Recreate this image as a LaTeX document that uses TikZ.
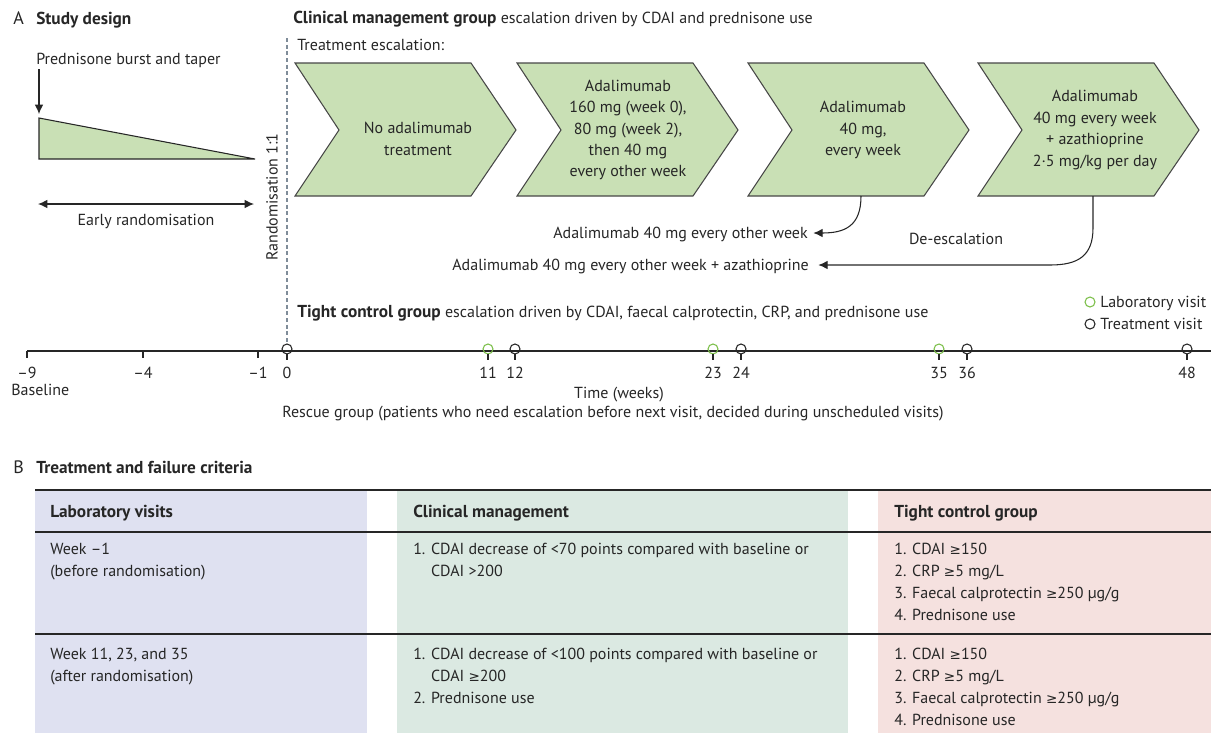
\documentclass[tikz,border=0pt]{standalone}
\usepackage{fontspec}
\setmainfont{PT Sans}
\newfontfamily\bff{PT Sans}[Scale=1.08]
\newfontfamily\symf{DejaVu Sans}[Scale=0.85]
\newcommand\mge{{\symf ≥}}
\newcommand\bt[1]{{\bff\bfseries #1}}
\usetikzlibrary{arrows.meta}
\definecolor{ink}{HTML}{262626}
\definecolor{chev}{HTML}{C9E0B5}
\definecolor{labg}{HTML}{7CBF4A}
\definecolor{dashc}{HTML}{7F8C99}
\definecolor{colA}{HTML}{DFE1F1}
\definecolor{colB}{HTML}{DBE9E2}
\definecolor{colC}{HTML}{F5E1DF}
\begin{document}
\begin{tikzpicture}[x=0.75pt,y=-0.75pt,
  every node/.style={inner sep=0pt,text=ink},
  t/.style={font=\fontsize{12}{16.1}\selectfont},
  tb/.style={font=\fontsize{12}{16.1}\selectfont\bff\bfseries},
  tl/.style={font=\fontsize{13.5}{16}\selectfont},
  chevbox/.style={draw=ink!85,fill=chev,line width=0.8pt,line join=miter},
  tip/.style={-{Latex[length=7pt,width=6.5pt]}},
  tlinestyle/.style={draw=ink,line width=0.8pt},
  visit/.style={draw=ink,line width=0.8pt},
  labvisit/.style={draw=labg,line width=0.8pt},
  tab/.style={font=\fontsize{12}{16.5}\selectfont,align=left,anchor=base west},
  tabh/.style={font=\fontsize{12}{16.5}\selectfont\bff\bfseries,anchor=base west}
]
\useasboundingbox (0,0) rectangle (1216,733);

% ---------- Panel A headings
\node[tl,anchor=base west] (A) at (13,24) {A};
\node[tb,anchor=base west] (sd) at (36,24) {Study design};
\node[t,anchor=base west] (pred) at (36,64) {Prednisone burst and taper};
\coordinate (triTL) at (39,118);
\coordinate (triBL) at (39,159);
\coordinate (triR) at (255,159);
\coordinate (predstart) at (39,69);
\draw[ink,line width=0.8pt,fill=chev] (triTL) -- (triR) -- (triBL) -- cycle;
\draw[ink,line width=0.9pt,tip] (predstart) -- ([yshift=3pt]triTL);
\coordinate (erL) at (38,204);
\coordinate (erR) at (254,204);
\draw[ink,line width=0.9pt,{Latex[length=7pt,width=6.5pt]}-{Latex[length=7pt,width=6.5pt]}] (erL) -- (erR);
\node[t,anchor=base] (er) at (146,225) {Early randomisation};
\node[t,rotate=90] (rand) at (272,197) {Randomisation 1:1};

% ---------- Clinical management
\node[anchor=base west,t] (cm) at (293,23) {\bt{Clinical management group} escalation driven by CDAI and prednisone use};
\node[anchor=base west,t] (te) at (297,50) {Treatment escalation:};

\foreach \L/\n in {295/1,517/2,748/3,978/4}{
  \draw[chevbox] (\L,63) -- ++(176,0) -- ++(45,67) -- ++(-45,66) -- ++(-176,0) -- ++(44,-66) -- cycle;
}
\node[t,align=center] (c1) at (418,139) {No adalimumab\\treatment};
\node[t,align=center] (c2) at (628,130) {Adalimumab\\160 mg (week 0),\\80 mg (week 2),\\then 40 mg\\every other week};
\node[t,align=center] (c3) at (863,130) {Adalimumab\\40 mg,\\every week};
\node[t,align=center] (c4) at (1095,130) {Adalimumab\\40 mg every week\\+ azathioprine\\2·5 mg/kg per day};
\coordinate (c3b) at (861,196);
\coordinate (c4b) at (1093,196);

\node[t,anchor=base east] (d1) at (808,238) {Adalimumab 40 mg every other week};
\node[t,anchor=base east] (d2) at (809,270) {Adalimumab 40 mg every other week + azathioprine};
\node[t,anchor=base] (deesc) at (956,244) {De-escalation};
\draw[ink,line width=0.8pt,tip] (c3b) .. controls (861,226) and (845,233) .. ([xshift=4pt]d1.east |- 0,233);
\draw[ink,line width=0.8pt,tip] (c4b) -- (1093,228) .. controls (1093,256) and (1078,265) .. (1050,265) -- ([xshift=7pt]d2.east |- 0,265);

% ---------- Tight control
\node[anchor=base west,t] (tc) at (297,317) {\bt{Tight control group} escalation driven by CDAI, faecal calprotectin, CRP, and prednisone use};
\draw[labvisit] (1090,302) circle (5);
\node[t,anchor=base west] (lv) at (1100,307) {Laboratory visit};
\draw[visit] (1090,324) circle (5);
\node[t,anchor=base west] (tv) at (1100,329) {Treatment visit};

% ---------- Timeline
\coordinate (tlL) at (27,351);
\coordinate (tlR) at (1211,351);
\draw[tlinestyle] (tlL) -- (tlR);
\foreach \x/\l in {27/{–9},143/{–4},258/{–1}}{
  \draw[tlinestyle] (\x,351) -- (\x,358);
  \node[t,anchor=base] at (\x,378) {\l};
}
\foreach \x/\l in {287/0,515/12,741/24,967/36,1187/48}{
  \draw[visit] (\x,349) circle (5);
  \draw[tlinestyle] (\x,354) -- (\x,360);
  \node[t,anchor=base] at (\x,378) {\l};
}
\foreach \x/\l in {488/11,713/23,939/35}{
  \draw[labvisit] (\x,349) circle (5);
  \draw[tlinestyle] (\x,354) -- (\x,360);
  \node[t,anchor=base] at (\x,378) {\l};
}
\draw[dashc,line width=0.8pt,dash pattern=on 3pt off 2pt] (287,38) -- (287,344);
\node[t,anchor=base west] (bl) at (11,395) {Baseline};
\node[t,anchor=base] (tw) at (619,398) {Time (weeks)};
\node[t,anchor=base west] (rg) at (282,417) {Rescue group (patients who need escalation before next visit, decided during unscheduled visits)};

% ---------- Panel B
\node[tl,anchor=base west] (B) at (13,473) {B};
\node[tb,anchor=base west] (tfc) at (36,473) {Treatment and failure criteria};
\fill[colA] (35,490) rectangle (367,733);
\fill[colB] (397,490) rectangle (848,733);
\fill[colC] (878,490) rectangle (1211,733);
\draw[ink,line width=0.8pt] (35,490) -- (1211,490);
\draw[ink,line width=0.8pt] (35,532) -- (1211,532);
\draw[ink,line width=0.8pt] (35,634) -- (1211,634);

\node[tabh] (h1) at (50,517) {Laboratory visits};
\node[tabh] (h2) at (413,517) {Clinical management};
\node[tabh] (h3) at (894,517) {Tight control group};

% base anchor of multi-line nodes = last line's baseline
\node[tab] (r1a) at (50,576) {Week –1\\(before randomisation)};
\node[tab] (r1b) at (413,576) {1. CDAI decrease of <70 points compared with baseline or\\\hphantom{1. }CDAI >200};
\node[tab] (r1c) at (894,620) {1. CDAI \mge150\\2. CRP \mge5 mg/L\\3. Faecal calprotectin \mge250 µg/g\\4. Prednisone use};

\node[tab] (r2a) at (50,681) {Week 11, 23, and 35\\(after randomisation)};
\node[tab] (r2b) at (413,703) {1. CDAI decrease of <100 points compared with baseline or\\\hphantom{1. }CDAI \mge200\\2. Prednisone use};
\node[tab] (r2c) at (894,725) {1. CDAI \mge150\\2. CRP \mge5 mg/L\\3. Faecal calprotectin \mge250 µg/g\\4. Prednisone use};
\end{tikzpicture}
\end{document}
